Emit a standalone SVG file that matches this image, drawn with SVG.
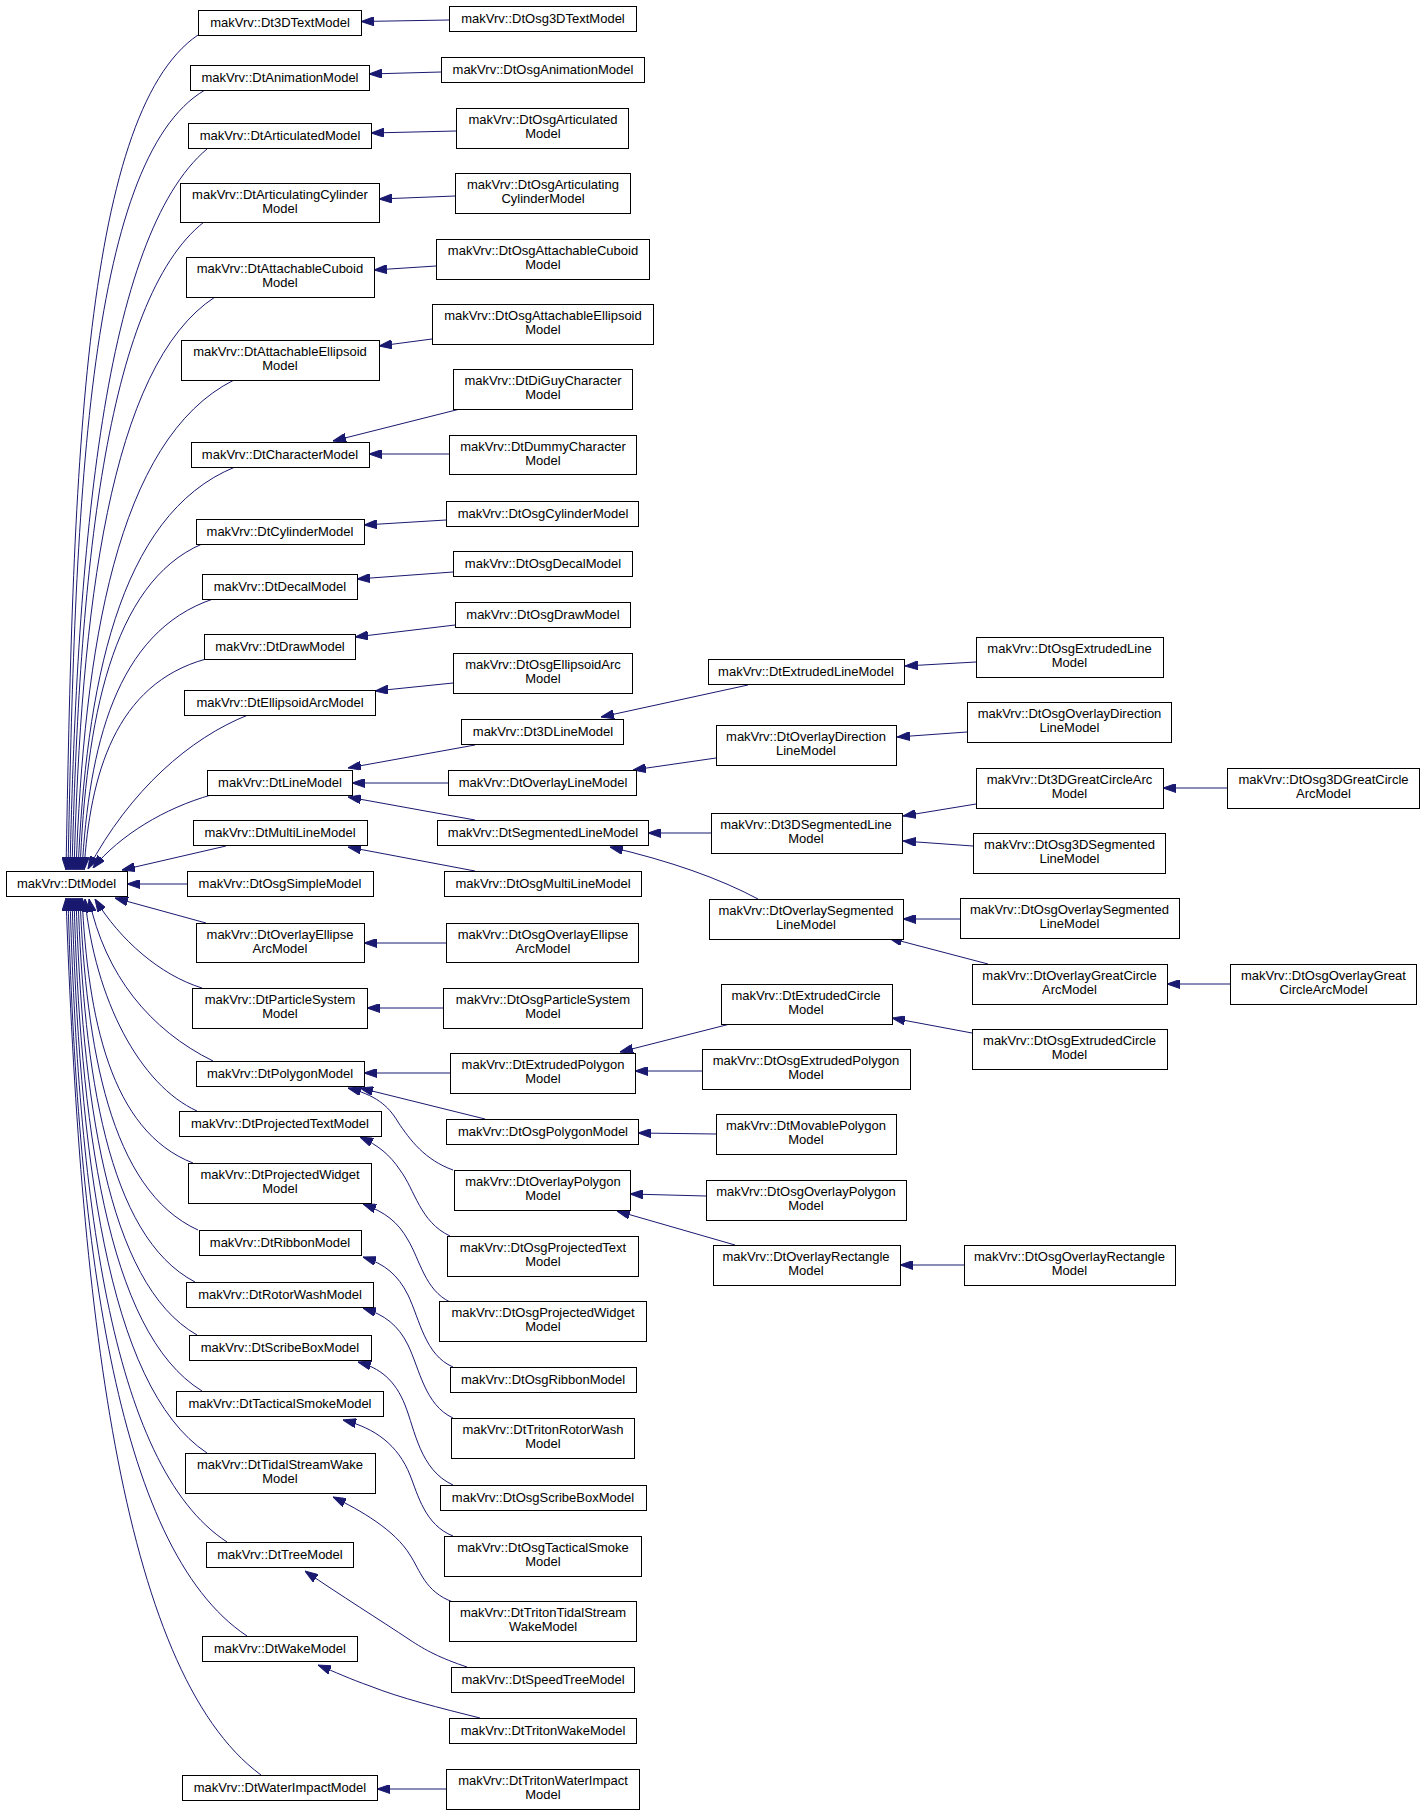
<svg xmlns="http://www.w3.org/2000/svg" width="1424" height="1815" viewBox="0 0 1424 1815">
<style>
.node rect{fill:#ffffff;stroke:#000000;stroke-width:1}
.node text{font-family:"Liberation Sans",Arial,sans-serif;font-size:13px;text-anchor:middle;fill:#000000}
.edges path{fill:none;stroke:#191970;stroke-width:1;marker-end:url(#arr)}
</style>
<defs>
<marker id="arr" viewBox="0 0 13 9" refX="13" refY="4.5" markerWidth="13" markerHeight="9" markerUnits="userSpaceOnUse" orient="auto">
<path d="M0,0 L13,4.5 L0,9 z" fill="#191970" stroke="#191970" stroke-width="1"/>
</marker>
</defs>
<rect width="1424" height="1815" fill="#ffffff"/>
<g class="edges">
<path d="M198,35 C80,115 73,494 66,870"/>
<path d="M205,90 C85,160 75,519 68,870"/>
<path d="M207,149 C104,236 77,546 70,870"/>
<path d="M204,222 C105,300 79,578 72,870"/>
<path d="M215,297 C109,366 81,612 74,870"/>
<path d="M234,380 C116,439 84,650 76,870"/>
<path d="M235,467 C117,515 86,689 78,870"/>
<path d="M202,544 C111,583 86,723 80,870"/>
<path d="M213,599 C115,632 89,748 82,870"/>
<path d="M206,659 C115,684 90,775 84,870"/>
<path d="M248,715 C190,738 130,790 88,869"/>
<path d="M211,795 C165,808 120,835 93,868"/>
<path d="M226,846 L122,870"/>
<path d="M187,884 L127,884"/>
<path d="M206,923 L115,898"/>
<path d="M202,988 C160,975 120,940 95,899"/>
<path d="M213,1061 C150,1030 105,975 89,899"/>
<path d="M197,1111 C140,1085 95,1000 85,899"/>
<path d="M193,1163 C110,1131 88,1017 82,898"/>
<path d="M198,1230 C110,1190 86,1047 80,898"/>
<path d="M195,1282 C107,1236 84,1071 78,898"/>
<path d="M197,1335 C106,1283 82,1095 76,898"/>
<path d="M202,1391 C106,1332 80,1120 74,898"/>
<path d="M207,1453 C106,1386 79,1148 72,898"/>
<path d="M227,1542 C109,1465 78,1188 70,898"/>
<path d="M247,1636 C113,1547 77,1230 68,898"/>
<path d="M261,1775 C118,1670 80,1293 66,898"/>
<path d="M449,20 L361,21.5"/>
<path d="M441,72 L369,74"/>
<path d="M456,131 L371,133"/>
<path d="M455,196 L379,199"/>
<path d="M436,266 L374,270"/>
<path d="M432,339 L379,346"/>
<path d="M460,409 L333,441"/>
<path d="M449,454 L369,454"/>
<path d="M446,520 L364,525"/>
<path d="M453,572 L357,579"/>
<path d="M455,625 L355,637"/>
<path d="M453,683 L375,691"/>
<path d="M475,745 L348,768"/>
<path d="M448,783 L352,783"/>
<path d="M475,820 L348,797"/>
<path d="M475,871 L348,847"/>
<path d="M446,943 L364,943"/>
<path d="M443,1008 L367,1008"/>
<path d="M450,1073 L364,1073"/>
<path d="M485,1119 L360,1088"/>
<path d="M453,1170 C425,1160 410,1140 398,1122 C388,1105 375,1095 348,1088"/>
<path d="M450,1236 C420,1222 415,1190 400,1170 C390,1155 378,1145 360,1137"/>
<path d="M450,1302 C425,1290 420,1260 408,1240 C398,1222 385,1212 363,1204"/>
<path d="M453,1367 C425,1355 420,1320 408,1295 C398,1275 385,1264 363,1257"/>
<path d="M453,1418 C425,1405 420,1370 408,1345 C398,1325 385,1315 363,1308"/>
<path d="M453,1485 C420,1470 415,1430 405,1405 C395,1380 380,1368 358,1362"/>
<path d="M453,1536 C425,1525 418,1495 410,1475 C398,1445 375,1428 343,1420"/>
<path d="M453,1602 C425,1592 420,1570 410,1555 C395,1530 360,1510 333,1497"/>
<path d="M467,1667 C440,1658 425,1650 410,1640 C380,1620 340,1595 305,1571"/>
<path d="M480,1718 C440,1708 400,1698 370,1686 C350,1679 335,1672 318,1665"/>
<path d="M446,1789 L377,1789"/>
<path d="M748,685 L601,717"/>
<path d="M976,662 L905,666"/>
<path d="M716,758 L633,770"/>
<path d="M967,732 L897,737"/>
<path d="M711,833 L648,833"/>
<path d="M976,804 L903,816"/>
<path d="M973,846 L903,841"/>
<path d="M1227,788 L1163,788"/>
<path d="M758,899 Q700,868 610,847"/>
<path d="M960,919 L903,919"/>
<path d="M988,964 L889,938"/>
<path d="M1230,984 L1167,984"/>
<path d="M730,1024 L620,1052"/>
<path d="M972,1033 L892,1018"/>
<path d="M702,1071 L635,1071"/>
<path d="M716,1134 L638,1133"/>
<path d="M706,1196 L630,1194"/>
<path d="M735,1245 L617,1211"/>
<path d="M964,1265 L900,1265"/>
</g>
<g id="n_DtModel" class="node"><rect x="6.5" y="871.5" width="121" height="25"/><text x="66.5" y="888">makVrv::DtModel</text></g>
<g id="n_Dt3DTextModel" class="node"><rect x="198.5" y="10.5" width="163" height="25"/><text x="280" y="27">makVrv::Dt3DTextModel</text></g>
<g id="n_DtAnimationModel" class="node"><rect x="190.5" y="65.5" width="179" height="25"/><text x="280" y="82">makVrv::DtAnimationModel</text></g>
<g id="n_DtArticulatedModel" class="node"><rect x="188.5" y="123.5" width="183" height="25"/><text x="280" y="140">makVrv::DtArticulatedModel</text></g>
<g id="n_DtArticulatingCylinderModel" class="node"><rect x="180.5" y="183.5" width="199" height="39"/><text x="280" y="199">makVrv::DtArticulatingCylinder</text><text x="280" y="213">Model</text></g>
<g id="n_DtAttachableCuboidModel" class="node"><rect x="186.5" y="257.5" width="188" height="40"/><text x="280" y="273">makVrv::DtAttachableCuboid</text><text x="280" y="287">Model</text></g>
<g id="n_DtAttachableEllipsoidModel" class="node"><rect x="181.5" y="340.5" width="198" height="40"/><text x="280" y="356">makVrv::DtAttachableEllipsoid</text><text x="280" y="370">Model</text></g>
<g id="n_DtCharacterModel" class="node"><rect x="191.5" y="442.5" width="178" height="25"/><text x="280" y="459">makVrv::DtCharacterModel</text></g>
<g id="n_DtCylinderModel" class="node"><rect x="196.5" y="519.5" width="168" height="25"/><text x="280" y="536">makVrv::DtCylinderModel</text></g>
<g id="n_DtDecalModel" class="node"><rect x="202.5" y="574.5" width="155" height="25"/><text x="280" y="591">makVrv::DtDecalModel</text></g>
<g id="n_DtDrawModel" class="node"><rect x="204.5" y="634.5" width="151" height="25"/><text x="280" y="651">makVrv::DtDrawModel</text></g>
<g id="n_DtEllipsoidArcModel" class="node"><rect x="184.5" y="690.5" width="191" height="25"/><text x="280" y="707">makVrv::DtEllipsoidArcModel</text></g>
<g id="n_DtLineModel" class="node"><rect x="207.5" y="770.5" width="145" height="25"/><text x="280" y="787">makVrv::DtLineModel</text></g>
<g id="n_DtMultiLineModel" class="node"><rect x="193.5" y="820.5" width="174" height="25"/><text x="280" y="837">makVrv::DtMultiLineModel</text></g>
<g id="n_DtOsgSimpleModel" class="node"><rect x="187.5" y="871.5" width="186" height="25"/><text x="280" y="888">makVrv::DtOsgSimpleModel</text></g>
<g id="n_DtOverlayEllipseArcModel" class="node"><rect x="196.5" y="923.5" width="168" height="39"/><text x="280" y="939">makVrv::DtOverlayEllipse</text><text x="280" y="953">ArcModel</text></g>
<g id="n_DtParticleSystemModel" class="node"><rect x="192.5" y="988.5" width="175" height="40"/><text x="280" y="1004">makVrv::DtParticleSystem</text><text x="280" y="1018">Model</text></g>
<g id="n_DtPolygonModel" class="node"><rect x="196.5" y="1061.5" width="168" height="25"/><text x="280" y="1078">makVrv::DtPolygonModel</text></g>
<g id="n_DtProjectedTextModel" class="node"><rect x="179.5" y="1111.5" width="202" height="25"/><text x="280" y="1128">makVrv::DtProjectedTextModel</text></g>
<g id="n_DtProjectedWidgetModel" class="node"><rect x="188.5" y="1163.5" width="183" height="40"/><text x="280" y="1179">makVrv::DtProjectedWidget</text><text x="280" y="1193">Model</text></g>
<g id="n_DtRibbonModel" class="node"><rect x="199.5" y="1230.5" width="162" height="25"/><text x="280" y="1247">makVrv::DtRibbonModel</text></g>
<g id="n_DtRotorWashModel" class="node"><rect x="186.5" y="1282.5" width="187" height="25"/><text x="280" y="1299">makVrv::DtRotorWashModel</text></g>
<g id="n_DtScribeBoxModel" class="node"><rect x="189.5" y="1335.5" width="182" height="25"/><text x="280" y="1352">makVrv::DtScribeBoxModel</text></g>
<g id="n_DtTacticalSmokeModel" class="node"><rect x="176.5" y="1391.5" width="207" height="25"/><text x="280" y="1408">makVrv::DtTacticalSmokeModel</text></g>
<g id="n_DtTidalStreamWakeModel" class="node"><rect x="185.5" y="1453.5" width="190" height="40"/><text x="280" y="1469">makVrv::DtTidalStreamWake</text><text x="280" y="1483">Model</text></g>
<g id="n_DtTreeModel" class="node"><rect x="206.5" y="1542.5" width="147" height="25"/><text x="280" y="1559">makVrv::DtTreeModel</text></g>
<g id="n_DtWakeModel" class="node"><rect x="202.5" y="1636.5" width="155" height="25"/><text x="280" y="1653">makVrv::DtWakeModel</text></g>
<g id="n_DtWaterImpactModel" class="node"><rect x="182.5" y="1775.5" width="195" height="25"/><text x="280" y="1792">makVrv::DtWaterImpactModel</text></g>
<g id="n_DtOsg3DTextModel" class="node"><rect x="449.5" y="6.5" width="187" height="25"/><text x="543" y="23">makVrv::DtOsg3DTextModel</text></g>
<g id="n_DtOsgAnimationModel" class="node"><rect x="441.5" y="57.5" width="203" height="25"/><text x="543" y="74">makVrv::DtOsgAnimationModel</text></g>
<g id="n_DtOsgArticulatedModel" class="node"><rect x="456.5" y="108.5" width="172" height="40"/><text x="543" y="124">makVrv::DtOsgArticulated</text><text x="543" y="138">Model</text></g>
<g id="n_DtOsgArticulatingCylinderModel" class="node"><rect x="455.5" y="173.5" width="175" height="40"/><text x="543" y="189">makVrv::DtOsgArticulating</text><text x="543" y="203">CylinderModel</text></g>
<g id="n_DtOsgAttachableCuboidModel" class="node"><rect x="436.5" y="239.5" width="213" height="40"/><text x="543" y="255">makVrv::DtOsgAttachableCuboid</text><text x="543" y="269">Model</text></g>
<g id="n_DtOsgAttachableEllipsoidModel" class="node"><rect x="432.5" y="304.5" width="221" height="40"/><text x="543" y="320">makVrv::DtOsgAttachableEllipsoid</text><text x="543" y="334">Model</text></g>
<g id="n_DtDiGuyCharacterModel" class="node"><rect x="453.5" y="369.5" width="179" height="40"/><text x="543" y="385">makVrv::DtDiGuyCharacter</text><text x="543" y="399">Model</text></g>
<g id="n_DtDummyCharacterModel" class="node"><rect x="449.5" y="435.5" width="187" height="39"/><text x="543" y="451">makVrv::DtDummyCharacter</text><text x="543" y="465">Model</text></g>
<g id="n_DtOsgCylinderModel" class="node"><rect x="446.5" y="501.5" width="192" height="25"/><text x="543" y="518">makVrv::DtOsgCylinderModel</text></g>
<g id="n_DtOsgDecalModel" class="node"><rect x="453.5" y="551.5" width="179" height="25"/><text x="543" y="568">makVrv::DtOsgDecalModel</text></g>
<g id="n_DtOsgDrawModel" class="node"><rect x="455.5" y="602.5" width="175" height="25"/><text x="543" y="619">makVrv::DtOsgDrawModel</text></g>
<g id="n_DtOsgEllipsoidArcModel" class="node"><rect x="453.5" y="653.5" width="179" height="40"/><text x="543" y="669">makVrv::DtOsgEllipsoidArc</text><text x="543" y="683">Model</text></g>
<g id="n_Dt3DLineModel" class="node"><rect x="461.5" y="719.5" width="162" height="25"/><text x="543" y="736">makVrv::Dt3DLineModel</text></g>
<g id="n_DtOverlayLineModel" class="node"><rect x="448.5" y="770.5" width="188" height="25"/><text x="543" y="787">makVrv::DtOverlayLineModel</text></g>
<g id="n_DtSegmentedLineModel" class="node"><rect x="437.5" y="820.5" width="211" height="25"/><text x="543" y="837">makVrv::DtSegmentedLineModel</text></g>
<g id="n_DtOsgMultiLineModel" class="node"><rect x="444.5" y="871.5" width="197" height="25"/><text x="543" y="888">makVrv::DtOsgMultiLineModel</text></g>
<g id="n_DtOsgOverlayEllipseArcModel" class="node"><rect x="446.5" y="923.5" width="192" height="39"/><text x="543" y="939">makVrv::DtOsgOverlayEllipse</text><text x="543" y="953">ArcModel</text></g>
<g id="n_DtOsgParticleSystemModel" class="node"><rect x="443.5" y="988.5" width="199" height="40"/><text x="543" y="1004">makVrv::DtOsgParticleSystem</text><text x="543" y="1018">Model</text></g>
<g id="n_DtExtrudedPolygonModel" class="node"><rect x="450.5" y="1053.5" width="185" height="40"/><text x="543" y="1069">makVrv::DtExtrudedPolygon</text><text x="543" y="1083">Model</text></g>
<g id="n_DtOsgPolygonModel" class="node"><rect x="446.5" y="1119.5" width="192" height="25"/><text x="543" y="1136">makVrv::DtOsgPolygonModel</text></g>
<g id="n_DtOverlayPolygonModel" class="node"><rect x="454.5" y="1170.5" width="176" height="40"/><text x="543" y="1186">makVrv::DtOverlayPolygon</text><text x="543" y="1200">Model</text></g>
<g id="n_DtOsgProjectedTextModel" class="node"><rect x="447.5" y="1236.5" width="191" height="40"/><text x="543" y="1252">makVrv::DtOsgProjectedText</text><text x="543" y="1266">Model</text></g>
<g id="n_DtOsgProjectedWidgetModel" class="node"><rect x="439.5" y="1301.5" width="207" height="40"/><text x="543" y="1317">makVrv::DtOsgProjectedWidget</text><text x="543" y="1331">Model</text></g>
<g id="n_DtOsgRibbonModel" class="node"><rect x="450.5" y="1367.5" width="186" height="25"/><text x="543" y="1384">makVrv::DtOsgRibbonModel</text></g>
<g id="n_DtTritonRotorWashModel" class="node"><rect x="451.5" y="1418.5" width="183" height="40"/><text x="543" y="1434">makVrv::DtTritonRotorWash</text><text x="543" y="1448">Model</text></g>
<g id="n_DtOsgScribeBoxModel" class="node"><rect x="440.5" y="1485.5" width="206" height="25"/><text x="543" y="1502">makVrv::DtOsgScribeBoxModel</text></g>
<g id="n_DtOsgTacticalSmokeModel" class="node"><rect x="444.5" y="1536.5" width="197" height="40"/><text x="543" y="1552">makVrv::DtOsgTacticalSmoke</text><text x="543" y="1566">Model</text></g>
<g id="n_DtTritonTidalStreamWakeModel" class="node"><rect x="449.5" y="1601.5" width="187" height="40"/><text x="543" y="1617">makVrv::DtTritonTidalStream</text><text x="543" y="1631">WakeModel</text></g>
<g id="n_DtSpeedTreeModel" class="node"><rect x="451.5" y="1667.5" width="183" height="25"/><text x="543" y="1684">makVrv::DtSpeedTreeModel</text></g>
<g id="n_DtTritonWakeModel" class="node"><rect x="449.5" y="1718.5" width="187" height="25"/><text x="543" y="1735">makVrv::DtTritonWakeModel</text></g>
<g id="n_DtTritonWaterImpactModel" class="node"><rect x="446.5" y="1769.5" width="193" height="40"/><text x="543" y="1785">makVrv::DtTritonWaterImpact</text><text x="543" y="1799">Model</text></g>
<g id="n_DtExtrudedLineModel" class="node"><rect x="708.5" y="659.5" width="196" height="25"/><text x="806" y="676">makVrv::DtExtrudedLineModel</text></g>
<g id="n_DtOverlayDirectionLineModel" class="node"><rect x="716.5" y="725.5" width="180" height="40"/><text x="806" y="741">makVrv::DtOverlayDirection</text><text x="806" y="755">LineModel</text></g>
<g id="n_Dt3DSegmentedLineModel" class="node"><rect x="711.5" y="813.5" width="191" height="40"/><text x="806" y="829">makVrv::Dt3DSegmentedLine</text><text x="806" y="843">Model</text></g>
<g id="n_DtOverlaySegmentedLineModel" class="node"><rect x="709.5" y="899.5" width="194" height="40"/><text x="806" y="915">makVrv::DtOverlaySegmented</text><text x="806" y="929">LineModel</text></g>
<g id="n_DtExtrudedCircleModel" class="node"><rect x="721.5" y="984.5" width="171" height="40"/><text x="806" y="1000">makVrv::DtExtrudedCircle</text><text x="806" y="1014">Model</text></g>
<g id="n_DtOsgExtrudedPolygonModel" class="node"><rect x="702.5" y="1049.5" width="208" height="40"/><text x="806" y="1065">makVrv::DtOsgExtrudedPolygon</text><text x="806" y="1079">Model</text></g>
<g id="n_DtMovablePolygonModel" class="node"><rect x="716.5" y="1114.5" width="180" height="40"/><text x="806" y="1130">makVrv::DtMovablePolygon</text><text x="806" y="1144">Model</text></g>
<g id="n_DtOsgOverlayPolygonModel" class="node"><rect x="706.5" y="1180.5" width="200" height="40"/><text x="806" y="1196">makVrv::DtOsgOverlayPolygon</text><text x="806" y="1210">Model</text></g>
<g id="n_DtOverlayRectangleModel" class="node"><rect x="713.5" y="1245.5" width="187" height="40"/><text x="806" y="1261">makVrv::DtOverlayRectangle</text><text x="806" y="1275">Model</text></g>
<g id="n_DtOsgExtrudedLineModel" class="node"><rect x="976.5" y="637.5" width="187" height="40"/><text x="1069.5" y="653">makVrv::DtOsgExtrudedLine</text><text x="1069.5" y="667">Model</text></g>
<g id="n_DtOsgOverlayDirectionLineModel" class="node"><rect x="967.5" y="702.5" width="204" height="40"/><text x="1069.5" y="718">makVrv::DtOsgOverlayDirection</text><text x="1069.5" y="732">LineModel</text></g>
<g id="n_Dt3DGreatCircleArcModel" class="node"><rect x="976.5" y="768.5" width="187" height="40"/><text x="1069.5" y="784">makVrv::Dt3DGreatCircleArc</text><text x="1069.5" y="798">Model</text></g>
<g id="n_DtOsg3DSegmentedLineModel" class="node"><rect x="973.5" y="833.5" width="192" height="40"/><text x="1069.5" y="849">makVrv::DtOsg3DSegmented</text><text x="1069.5" y="863">LineModel</text></g>
<g id="n_DtOsgOverlaySegmentedLineModel" class="node"><rect x="960.5" y="898.5" width="219" height="40"/><text x="1069.5" y="914">makVrv::DtOsgOverlaySegmented</text><text x="1069.5" y="928">LineModel</text></g>
<g id="n_DtOverlayGreatCircleArcModel" class="node"><rect x="972.5" y="964.5" width="195" height="40"/><text x="1069.5" y="980">makVrv::DtOverlayGreatCircle</text><text x="1069.5" y="994">ArcModel</text></g>
<g id="n_DtOsgExtrudedCircleModel" class="node"><rect x="972.5" y="1029.5" width="195" height="40"/><text x="1069.5" y="1045">makVrv::DtOsgExtrudedCircle</text><text x="1069.5" y="1059">Model</text></g>
<g id="n_DtOsgOverlayRectangleModel" class="node"><rect x="964.5" y="1245.5" width="211" height="40"/><text x="1069.5" y="1261">makVrv::DtOsgOverlayRectangle</text><text x="1069.5" y="1275">Model</text></g>
<g id="n_DtOsg3DGreatCircleArcModel" class="node"><rect x="1227.5" y="768.5" width="192" height="40"/><text x="1323.5" y="784">makVrv::DtOsg3DGreatCircle</text><text x="1323.5" y="798">ArcModel</text></g>
<g id="n_DtOsgOverlayGreatCircleArcModel" class="node"><rect x="1230.5" y="964.5" width="186" height="40"/><text x="1323.5" y="980">makVrv::DtOsgOverlayGreat</text><text x="1323.5" y="994">CircleArcModel</text></g>
</svg>
